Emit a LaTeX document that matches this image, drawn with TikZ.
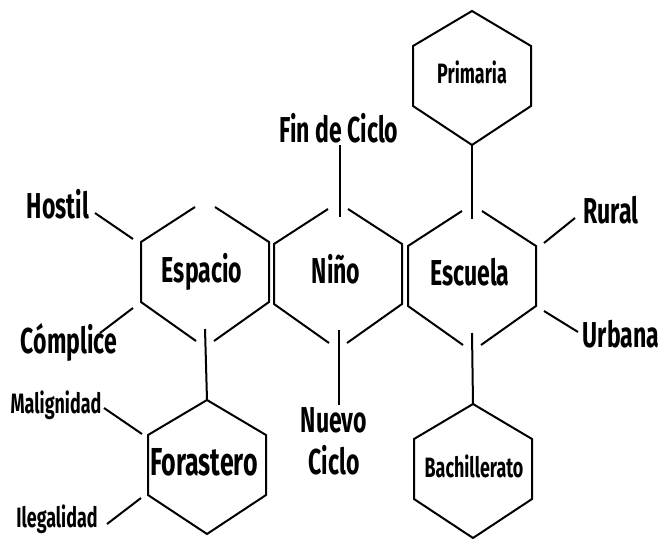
\documentclass[tikz,border=0pt]{standalone}
\usepackage{fontspec}
\setmainfont[FakeStretch=0.64]{Fira Sans}
\begin{document}
\begin{tikzpicture}[x=1pt,y=-1pt,
  edge/.style={line width=2pt, draw=black},
  lbl/.style={font=\bfseries\fontsize{36}{42}\selectfont, inner sep=0pt, anchor=base, text=black},
  slbl/.style={lbl, font=\bfseries\fontsize{28}{33}\selectfont},
  blbl/.style={lbl, font=\bfseries\fontsize{39}{44}\selectfont},
  gaphex/.pic={
    \draw[edge] (-10,-65) -- (-64,-30) -- (-64,30) -- (-9,69);
    \draw[edge] (10,-65) -- (64,-30) -- (64,30) -- (9,69);
    \coordinate (-top) at (0,-57);
    \coordinate (-bot) at (0,57);
    \coordinate (-ul) at (-72,-33);
    \coordinate (-ll) at (-72,36);
    \coordinate (-ur) at (72,-33);
    \coordinate (-lr) at (72,35);
  },
  smallhex/.pic={
    \draw[edge] (0,-65) -- (59,-30) -- (59,30) -- (0,69) -- (-59,30) -- (-59,-30) -- cycle;
    \coordinate (-top) at (0,-65);
    \coordinate (-bot) at (0,69);
    \coordinate (-ul) at (-65,-31);
    \coordinate (-ll) at (-66,33);
  }]
\useasboundingbox (0,0) rectangle (660,538);

% hexagons
\pic (esp) at (205,272) {gaphex};
\pic (nino) at (338,274) {gaphex};
\pic (esc) at (472,276) {gaphex};
\pic (prim) at (472,76) {smallhex};
\pic (bach) at (473,469) {smallhex};
\pic (fora) at (207,465) {smallhex};

% labels inside hexagons
\node[lbl] (tesp) at (202,282) {Espacio};
\node[lbl] (tnino) at (336,283) {Niño};
\node[lbl] (tesc) at (470,285) {Escuela};
\node[slbl] (tprim) at (472,83) {Primaria};
\node[slbl] (tbach) at (474,477) {Bachillerato};
\node[blbl] (tfora) at (204,475) {Forastero};

% outer labels
\node[lbl] (fin) at (339,142) {Fin de Ciclo};
\node[lbl, anchor=north, align=center] (nuevo) at (334,407) {Nuevo\\Ciclo};
\node[lbl] (hostil) at (58,218) {Hostil};
\node[lbl] (complice) at (69,353) {Cómplice};
\node[lbl] (rural) at (611,223) {Rural};
\node[lbl] (urbana) at (621,347) {Urbana};
\node[slbl] (malig) at (56,413) {Malignidad};
\node[slbl] (ilegal) at (57,527) {Ilegalidad};

% free ends of side connectors
\coordinate (hostil-e) at (95,213);
\coordinate (complice-e) at (100,333);
\coordinate (rural-e) at (575,218);
\coordinate (urbana-e) at (578,332);
\coordinate (malig-e) at (104,408);
\coordinate (ilegal-e) at (107,524);
\coordinate (fin-e) at (340,145);
\coordinate (nuevo-e) at (339,405);

% connectors
\draw[edge] (fin-e) -- (fin-e |- nino-top);
\draw[edge] (nino-bot) -- (nuevo-e |- nino-bot) -- (nuevo-e);
\draw[edge] (prim-bot) -- (esc-top);
\draw[edge] (esc-bot) -- (bach-top);
\draw[edge] (esp-bot) -- (fora-top);
\draw[edge] (hostil-e) -- (esp-ul);
\draw[edge] (complice-e) -- (esp-ll);
\draw[edge] (rural-e) -- (esc-ur);
\draw[edge] (urbana-e) -- (esc-lr);
\draw[edge] (malig-e) -- (fora-ul);
\draw[edge] (ilegal-e) -- (fora-ll);
\end{tikzpicture}
\end{document}
